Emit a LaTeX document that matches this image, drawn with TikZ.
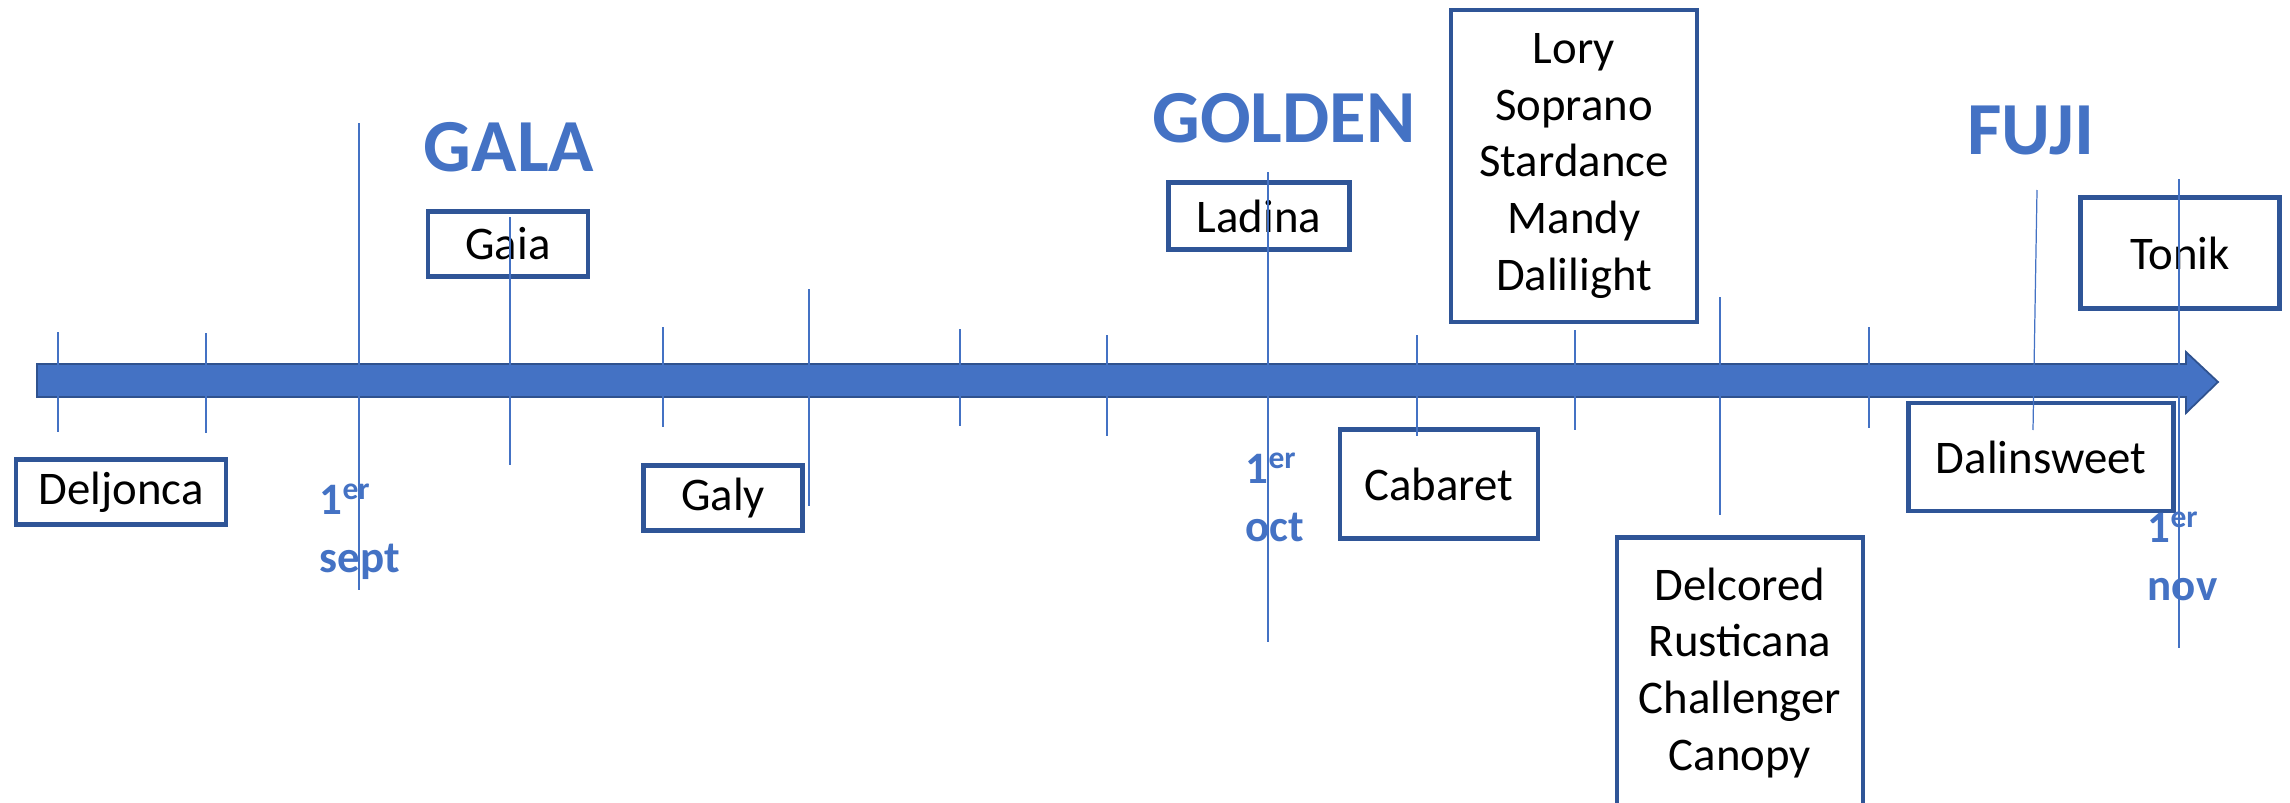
\documentclass[tikz,border=0pt]{standalone}
\usepackage{fontspec}
\setmainfont{Carlito}
\definecolor{axisblue}{HTML}{4472C4}
\definecolor{boxblue}{HTML}{2F5597}
\definecolor{edgeblue}{HTML}{2F528F}

\begin{document}
\begin{tikzpicture}[x=0.01cm,y=-0.01cm,
    variety/.style={draw=boxblue,line width=1.3pt,align=center,inner sep=0pt,
      font=\fontsize{13.3}{16.2}\selectfont},
    apple/.style={text=axisblue,anchor=base,inner sep=0pt,
      font=\fontsize{21.3}{25}\selectfont\bfseries},
    month/.style={text=axisblue,anchor=base west,align=left,inner sep=0pt,
      font=\fontsize{12.8}{16.4}\selectfont\bfseries},
    daytick/.style={axisblue,line width=0.35pt}]
      \useasboundingbox (0,0) rectangle (2290,803);
      \filldraw[fill=axisblue,draw=edgeblue,line width=0.5pt]
        (37,364)--(2186,364)--(2186,352)--(2218,382)--(2186,413)--(2186,397)--(37,397)--cycle;
      \node[variety,minimum width=2.10cm,minimum height=0.65cm] (deljonca) at (121,492) {Deljonca};
      \node[variety,minimum width=1.60cm,minimum height=0.65cm] (gaia) at (508,244) {Gaia};
      \node[variety,minimum width=1.59cm,minimum height=0.65cm] (galy) at (723,498) {Galy};
      \node[variety,minimum width=1.81cm,minimum height=0.67cm] (ladina) at (1259,216) {Ladina};
      \node[variety,minimum width=1.98cm,minimum height=1.09cm] (cabaret) at (1439,484) {Cabaret};
      \node[variety,minimum width=2.46cm,minimum height=3.12cm] (lory) at (1574,166)
        {Lory\\Soprano\\Stardance\\Mandy\\Dalilight};
      \node[variety,minimum width=2.46cm,minimum height=2.71cm] (delcored) at (1740,673)
        {Delcored\\Rusticana\\Challenger\\Canopy};
      \node[variety,minimum width=2.65cm,minimum height=1.08cm] (dalinsweet) at (2041,457) {Dalinsweet};
      \node[variety,minimum width=1.99cm,minimum height=1.11cm] (tonik) at (2180,253) {Tonik};
      \node[apple] (gala) at (509,171) {GALA};
      \node[apple] (golden) at (1284,143) {GOLDEN};
      \node[apple] (fuji) at (2031,154) {FUJI};
      \node[month] (sept) at (319,572) {1\textsuperscript{er}\\sept};
      \node[month] (oct) at (1245,541) {1\textsuperscript{er}\\oct};
      \node[month] (nov) at (2147,600) {1\textsuperscript{er}\\nov};
      \foreach \x/\ya/\yb in {58/332/432,206/333/433,359/123/590,510/217/465,
          663/327/427,809/289/506,960/329/426,1107/335/436,1268/172/642,
          1417/335/436,1575/330/430,1720/297/515,1869/327/428,2179/179/648}
        \draw[daytick] (\x,\ya)--(\x,\yb);
      \draw[daytick] (2037,190)--(2033,430);
    \end{tikzpicture}
\end{document}
